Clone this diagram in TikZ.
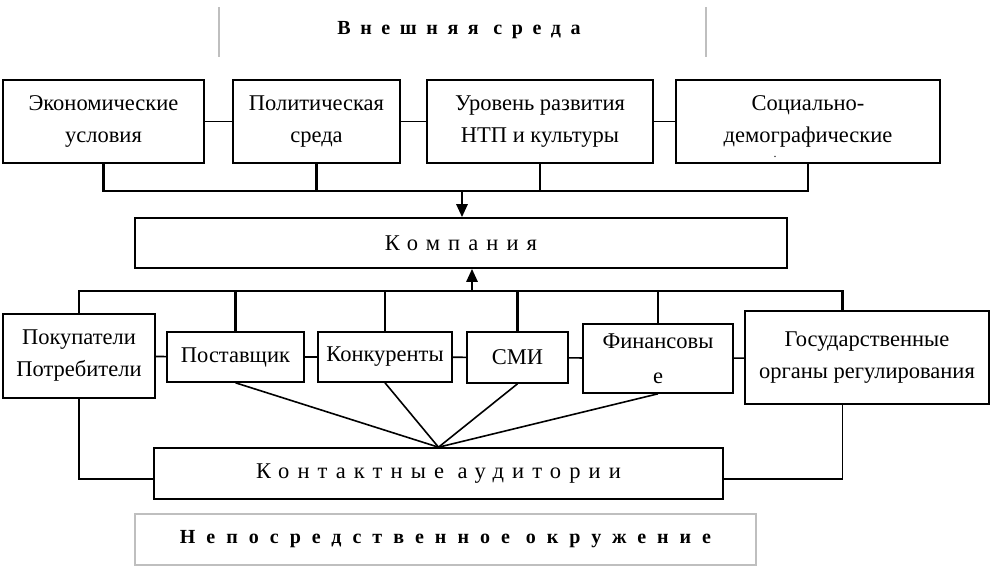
\documentclass[tikz,border=0pt]{standalone}
\usepackage{fontspec}
\setmainfont{Liberation Serif}
\usetikzlibrary{arrows.meta,calc,positioning}
\begin{document}
\begin{tikzpicture}[x=1pt,y=-1pt,>={Triangle[length=13pt,width=11pt]},
box/.style={draw,line width=1.6pt,align=center,inner sep=2pt,font=\fontsize{22.5}{32}\selectfont},
spaced/.style={font=\fontsize{22.5}{26}\selectfont\addfontfeature{LetterSpace=36}},
title/.style={font=\fontsize{20}{24}\selectfont\bfseries\addfontfeature{LetterSpace=48}},
bus/.style={line width=2.6pt},
link/.style={line width=1.6pt},]
\useasboundingbox (0,0) rectangle (990,568);
% header
\draw[gray!50,line width=1.2pt] (219,7)--(219,57);
\draw[gray!50,line width=1.2pt] (706,7)--(706,57);
\node (H) at (459,30)[title] {Внешняя среда};
% outer environment
\node (E) at (103.5,121.5)[box,minimum width=201pt,minimum height=83pt] {Экономические\\условия};
\node (P) at (316.5,121.5)[box,minimum width=167pt,minimum height=83pt] {Политическая\\среда};
\node (N) at (540,121.5)[box,minimum width=226pt,minimum height=83pt] {Уровень развития\\НТП и культуры};
\node (S) at (808,121.5)[box,minimum width=264pt,minimum height=83pt,
  label={[label distance=-9pt,xshift=-33pt,inner sep=1pt,font=\fontsize{12}{12}\selectfont]below:.}] {Социально-\\демографические};
\draw[link] (E)--(P);
\draw[link] (P)--(N);
\draw[link] (N)--(S);
% company
\node (K) at (461,243)[box,spaced,minimum width=652pt,minimum height=50pt] {Компания};
\coordinate (T) at (462,191);
\draw[bus] (E.south)--(E.south |- T)--(S.south |- T)--(S.south);
\draw[bus] (P.south)--(P.south |- T);
\draw[bus] (N.south)--(N.south |- T);
\draw[bus,->] (T)--(T |- K.north);
% direct surroundings
\node (B) at (79,356)[box,minimum width=152pt,minimum height=84pt] {Покупатели\\Потребители};
\node (V) at (235.5,357)[box,minimum width=137pt,minimum height=50pt] {Поставщик};
\node (R) at (385,357)[box,minimum width=134pt,minimum height=50pt] {Конкуренты};
\node (M) at (517.5,357.5)[box,minimum width=101pt,minimum height=51pt] {СМИ};
\node (F) at (658,358.5)[box,minimum width=150pt,minimum height=69pt] {Финансовы\\[3pt]е};
\node (G) at (867,357.5)[box,minimum width=244pt,minimum height=93pt] {Государственные\\органы регулирования};
\draw[link] (B)--(V);
\draw[link] (V)--(R);
\draw[link] (R)--(M);
\draw[link] (M)--(F);
\draw[link] (F)--(G);
\coordinate (U) at (472,291);
\coordinate (G1) at ($(G.north west)!0.4!(G.north east)$);
\draw[bus] (B.north)--(B.north |- U)--(G1 |- U)--(G1);
\draw[bus] (V.north)--(V.north |- U);
\draw[bus] (R.north)--(R.north |- U);
\draw[bus] (M.north)--(M.north |- U);
\draw[bus] (F.north)--(F.north |- U);
\draw[bus,->] (U)--(U |- K.south);
% contact audiences
\node (A) at (438.5,473.5)[box,spaced,minimum width=569pt,minimum height=51pt] {Контактные аудитории};
\draw[link] (V.south)--(A.north);
\draw[link] (R.south)--(A.north);
\draw[link] (M.south)--(A.north);
\draw[link] (F.south)--(A.north);
\coordinate (A1) at ($(A.north west)!0.6!(A.south west)$);
\coordinate (A2) at ($(A.north east)!0.6!(A.south east)$);
\draw[link] (B.south)|-(A1);
\draw[link] ($(G.south west)!0.4!(G.south east)$)|-(A2);
% footer
\node (L) at (445.5,539.5)[title,draw=gray!50,line width=1.2pt,minimum width=621pt,minimum height=51pt,font=\fontsize{20}{24}\selectfont\bfseries\addfontfeature{LetterSpace=55}] {Непосредственное окружение};
\end{tikzpicture}
\end{document}
